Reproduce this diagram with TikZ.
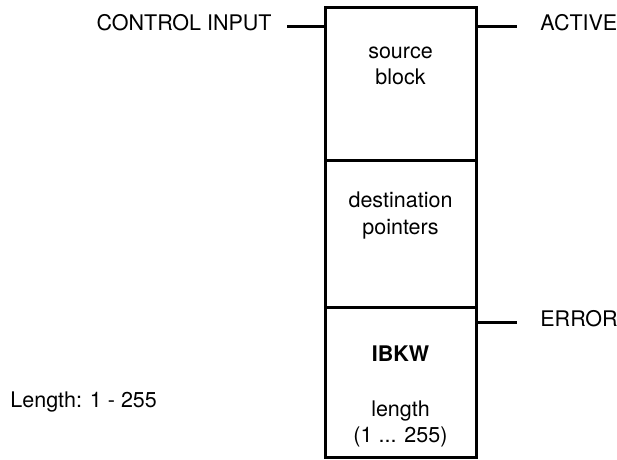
\documentclass[tikz,border=0pt]{standalone}
\usepackage{fontspec}
\setmainfont{TeX Gyre Heros}
\usetikzlibrary{positioning}
\tikzset{
  fbbox/.style={draw,line width=1.5pt,outer sep=0pt,inner sep=0pt,minimum width=75.5pt},
  fbtext/.style={align=center,inner sep=0pt,font=\fontsize{10.75}{13.25}\selectfont},
  pinlabel/.style={inner sep=0pt,font=\fontsize{10.75}{13.25}\selectfont},
  pinline/.style={line width=1.5pt}
}
\begin{document}
\begin{tikzpicture}[x=0.5pt,y=-0.5pt]
  \useasboundingbox (0,0) rectangle (617,460);
  % function block
  \node[fbbox,minimum height=76.5pt,anchor=north west] (src) at (325,7.5) {};
  \node[fbbox,minimum height=73.5pt,below=0pt of src] (dst) {};
  \node[fbbox,minimum height=75pt,below=0pt of dst] (ibkw) {};
  \node[fbtext,below=19.5pt of src.north] (srctext) {source\\block};
  \node[fbtext,below=15.5pt of dst.north] (dsttext) {destination\\pointers};
  \node[fbtext,below=19pt of ibkw.north] (ibkwtext) {\textbf{IBKW}\\[14pt]length\\(1 ... 255)};
  % inputs and outputs
  \node[pinlabel,anchor=base east] (ctrl) at (272,31) {CONTROL INPUT};
  \node[pinlabel,anchor=base west] (active) at (540,31) {ACTIVE};
  \node[pinlabel,anchor=base west] (error) at (540,327) {ERROR};
  \node[pinlabel,anchor=base west] (len) at (10,408) {Length: 1 - 255};
  \coordinate (ctrlpin) at (287,27);
  \coordinate (activepin) at (517,27);
  \coordinate (errorpin) at (517,323);
  \draw[pinline] (ctrlpin) -- (ctrlpin -| src.west);
  \draw[pinline] (src.east |- activepin) -- (activepin);
  \draw[pinline] (ibkw.east |- errorpin) -- (errorpin);
\end{tikzpicture}
\end{document}
